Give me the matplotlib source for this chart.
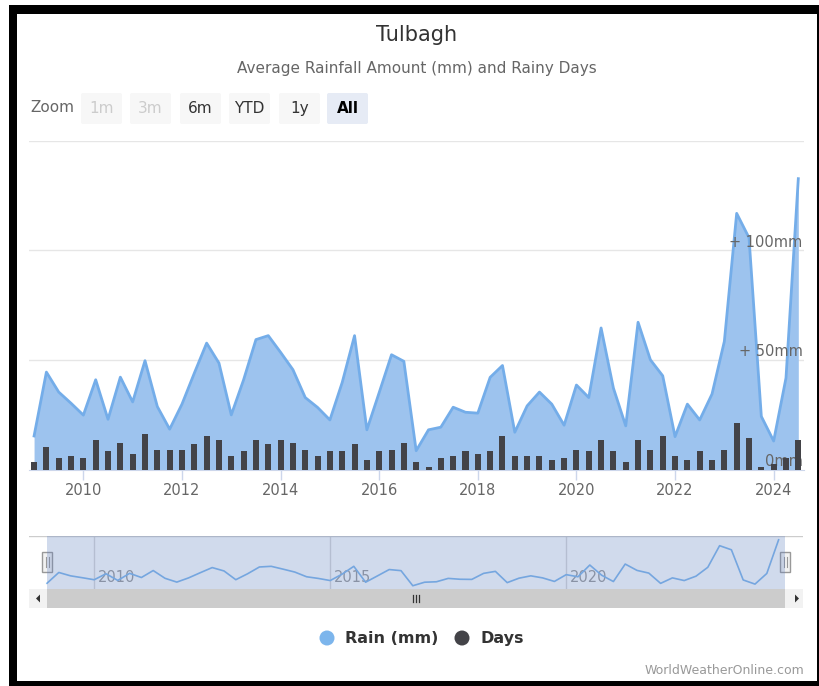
import numpy as np
import pandas as pd
import matplotlib
matplotlib.use('Agg')
import matplotlib.pyplot as plt
from matplotlib.patches import Rectangle, FancyBboxPatch, Circle, Polygon

plt.rcParams['font.family'] = ['DejaVu Sans']

W, H = 819, 686

# quarterly samples, Jan 2009 .. Jul 2024
dates = pd.date_range('2009-01-01', periods=63, freq='3MS')
years = dates.year + (dates.month - 1) / 12

rain_mm = [
    15.5, 44.6, 35.5, 30.4, 25.0, 41.1, 23.1, 42.3, 31.0, 49.8,
    28.9, 18.6, 30.0, 44.1, 57.8, 48.7, 25.1, 41.1, 59.4, 61.2,
    53.6, 45.7, 33.0, 28.5, 22.8, 39.9, 61.2, 18.3, 35.3, 52.5,
    49.5, 8.8, 18.3, 19.5, 28.6, 26.3, 25.9, 42.2, 47.6, 17.2,
    29.2, 35.5, 30.0, 20.4, 38.7, 33.0, 64.7, 37.3, 20.1, 67.3,
    50.2, 42.9, 15.2, 30.0, 22.8, 34.6, 58.6, 116.9, 105.8, 24.4,
    13.2, 41.9, 132.7,
]
rainy_days = [
    3.1, 8.5, 4.6, 5.1, 4.6, 11.0, 7.0, 10.0, 6.0, 13.4,
    7.5, 7.5, 7.5, 9.5, 12.5, 11.0, 5.1, 7.0, 11.0, 9.5,
    11.0, 10.0, 7.5, 5.1, 7.0, 7.0, 9.5, 3.6, 7.0, 7.5,
    10.0, 3.1, 1.1, 4.6, 5.1, 7.0, 6.0, 7.0, 12.5, 5.1,
    5.1, 5.1, 3.6, 4.6, 7.5, 7.0, 11.0, 7.0, 3.1, 11.0,
    7.5, 12.5, 5.1, 3.6, 7.0, 3.6, 7.5, 17.4, 12.0, 1.1,
    2.1, 4.6, 11.0,
]
x_ticks = [2010, 2012, 2014, 2016, 2018, 2020, 2022, 2024]
nav_ticks = [2010, 2015, 2020]
y_ticks = [50, 100, 150]
y_labels = {0: '0mm', 50: '+ 50mm', 100: '+ 100mm'}
zoom_buttons = ['1m', '3m', '6m', 'YTD', '1y', 'All']

rain_fill = '#9dc3ee'
rain_line = '#74ade9'
days_col = '#434348'


def rect(l, t, r, b):
    return [l / W, 1 - b / H, (r - l) / W, (b - t) / H]


fig = plt.figure(figsize=(W / 100, H / 100), dpi=100)

# background layer in pixel coordinates
bg = fig.add_axes([0, 0, 1, 1], zorder=0)
bg.set_xlim(0, W)
bg.set_ylim(H, 0)
bg.axis('off')

# black frame
for l, t, r, b in [(9, 5, 819, 14), (9, 5, 17, 686), (9, 681, 819, 686), (816.5, 5, 819, 686)]:
    bg.add_patch(Rectangle((l, t), r - l, b - t, color='black', lw=0))

bg.text(417, 35, 'Tulbagh', ha='center', va='center', fontsize=15, color='#333333')
bg.text(417, 68, 'Average Rainfall Amount (mm) and Rainy Days', ha='center', va='center',
        fontsize=11, color='#666666')

# range selector
bg.text(30, 108, 'Zoom', ha='left', va='center', fontsize=11, color='#666666')
bx = [81, 130, 180, 229, 279, 327]
for i, (lab, x0) in enumerate(zip(zoom_buttons, bx)):
    sel = lab == 'All'
    face = '#e6ebf5' if sel else '#f7f7f7'
    tc = '#cccccc' if i < 2 else ('#000000' if sel else '#333333')
    bg.add_patch(FancyBboxPatch((x0, 93), 41, 31, boxstyle='round,pad=0,rounding_size=2',
                                fc=face, ec='none'))
    bg.text(x0 + 20.5, 108.5, lab, ha='center', va='center', fontsize=11, color=tc,
            fontweight='bold' if sel else 'normal')

# scrollbar
bg.add_patch(Rectangle((29, 589), 774, 19, fc='#f2f2f2', ec='none'))
bg.add_patch(Rectangle((47, 589), 738, 19, fc='#cccccc', ec='none'))
bg.add_patch(Polygon([(40, 594.5), (40, 602.5), (36, 598.5)], closed=True, fc='#333333', ec='none'))
bg.add_patch(Polygon([(795, 594.5), (795, 602.5), (799, 598.5)], closed=True, fc='#333333', ec='none'))
for gx in (413, 416, 419):
    bg.plot([gx, gx], [595, 602], color='#333333', lw=0.9)

# legend
bg.add_patch(Circle((327, 638), 7.5, fc='#7cb5ec', ec='none'))
bg.text(345, 638.5, 'Rain (mm)', ha='left', va='center', fontsize=11.5, fontweight='bold', color='#333333')
bg.add_patch(Circle((462, 638), 7.5, fc=days_col, ec='none'))
bg.text(480, 638.5, 'Days', ha='left', va='center', fontsize=11.5, fontweight='bold', color='#333333')

bg.text(804, 670, 'WorldWeatherOnline.com', ha='right', va='center', fontsize=9, color='#999999')

# main chart
x0_yr = 2010 - 54.3 / 49.24
x1_yr = 2024 + 30.3 / 49.24
ax = fig.add_axes(rect(29, 140.7, 804, 470), zorder=1)
ax.set_facecolor('none')
ax.fill_between(years, 0, rain_mm, color=rain_fill, lw=0, zorder=2)
ax.plot(years, rain_mm, color=rain_line, lw=2, zorder=3, solid_joinstyle='round')
ax.set_xlim(x0_yr, x1_yr)
ax.set_ylim(0, 150)
ax.set_yticks(y_ticks)
ax.yaxis.grid(True, color='#e6e6e6', lw=1)
ax.set_axisbelow(True)
ax.tick_params(axis='y', left=False, labelleft=False)
ax.set_xticks(x_ticks)
ax.set_xticklabels([str(t) for t in x_ticks])
ax.tick_params(axis='x', length=7.5, width=1, color='#ccd6eb', labelsize=10.5,
               labelcolor='#666666', pad=2)
for s in ['top', 'left', 'right']:
    ax.spines[s].set_visible(False)
ax.spines['bottom'].set_color('#ccd6eb')

for v, lab in y_labels.items():
    ax.annotate(lab, xy=(1, v), xycoords=('axes fraction', 'data'), xytext=(-1, 6),
                textcoords='offset points', ha='right', va='center', fontsize=10.5,
                color='#666666', zorder=5)

ax2 = fig.add_axes(rect(29, 140.7, 804, 470), zorder=2, sharex=ax)
ax2.set_facecolor('none')
ax2.bar(years, rainy_days, width=0.122, color=days_col, lw=0)
ax2.set_ylim(0, 328.6 / 2.7)
ax2.axis('off')

# navigator
nav_l = 2009 - 18 / 47.2
nav_r = 2009 + 756 / 47.2
nav = fig.add_axes(rect(29, 536, 803, 589), zorder=1)
nav.set_xlim(nav_l, nav_r)
nav.set_ylim(0, 143)
nav.axis('off')
nav.axhline(143, color='#cccccc', lw=1)
for t in nav_ticks:
    nav.axvline(t, color='#d8d8d8', lw=1, zorder=1)
    nav.annotate(str(t), xy=(t, 0), xycoords=('data', 'axes fraction'), xytext=(3, 8),
                 textcoords='offset points', ha='left', va='center', fontsize=10.5,
                 color='#999999', zorder=2)
nav.plot(years, rain_mm, color='#7cb5ec', lw=1.2, zorder=3)
nav.axvspan(years[0], years[-1] + 0.13, color='#6685c2', alpha=0.3, lw=0, zorder=4)

# navigator handles
for hx in (47, 785):
    bg.add_patch(Rectangle((hx - 5, 552), 10, 20, fc='#f2f2f2', ec='#999999', lw=1, zorder=5))
    for lx in (hx - 1.5, hx + 1.5):
        bg.plot([lx, lx], [557, 567], color='#999999', lw=0.8, zorder=6)

fig.savefig('out.png', dpi=100)
